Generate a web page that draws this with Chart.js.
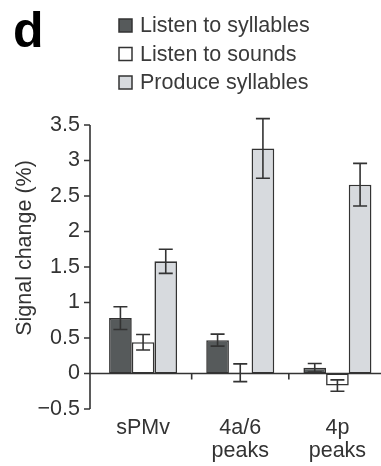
<!DOCTYPE html>
<html>
<head>
<meta charset="utf-8">
<script src="https://cdn.jsdelivr.net/npm/chart.js@4"></script>
<style>
  html, body { margin: 0; padding: 0; background: #fff; overflow: hidden; }
  #wrap { position: relative; width: 388px; height: 466px; }
</style>
</head>
<body>
<div id="wrap"><canvas id="chart" width="388" height="466"></canvas></div>
<script>
const regions = [["sPMv"], ["4a/6", "peaks"], ["4p", "peaks"]];
const seriesNames = ["Listen to syllables", "Listen to sounds", "Produce syllables"];

// mean % signal change per region
const listenSyllables = [0.78, 0.47, 0.08];
const listenSounds = [0.44, 0.01, -0.17];
const produceSyllables = [1.58, 3.17, 2.66];

// standard errors
const listenSyllablesErr = [0.16, 0.085, 0.06];
const listenSoundsErr = [0.11, 0.125, 0.08];
const produceSyllablesErr = [0.17, 0.42, 0.3];

const yTicks = [-0.5, 0, 0.5, 1, 1.5, 2, 2.5, 3, 3.5];

const INK = "#333";
const FONT = "'Liberation Sans', Arial, sans-serif";
const FS = 21.5;
const AXIS_GAP = 4.5; // y axis sits a little left of the first group

const fills = ["#565a5b", "#ffffff", "#d7dade"];
const errs = [listenSyllablesErr, listenSoundsErr, produceSyllablesErr];

const axes = {
  id: "axes",
  afterDatasetsDraw(chart) {
    const { ctx, chartArea: a, scales: { x, y } } = chart;
    const ax = a.left - AXIS_GAP;
    ctx.save();
    ctx.strokeStyle = INK;
    ctx.lineWidth = 1.6;

    // error bars
    chart.data.datasets.forEach((ds, di) => {
      const meta = chart.getDatasetMeta(di);
      meta.data.forEach((bar, i) => {
        const v = ds.data[i], e = errs[di][i];
        const hi = y.getPixelForValue(v + e), lo = y.getPixelForValue(v - e);
        ctx.beginPath();
        ctx.moveTo(bar.x, hi); ctx.lineTo(bar.x, lo);
        ctx.moveTo(bar.x - 7, hi); ctx.lineTo(bar.x + 7, hi);
        ctx.moveTo(bar.x - 7, lo); ctx.lineTo(bar.x + 7, lo);
        ctx.stroke();
      });
    });

    // y axis line and ticks
    ctx.beginPath();
    ctx.moveTo(ax, y.getPixelForValue(yTicks[yTicks.length - 1]));
    ctx.lineTo(ax, y.getPixelForValue(yTicks[0]));
    yTicks.forEach(t => {
      const py = y.getPixelForValue(t);
      ctx.moveTo(ax - 6, py); ctx.lineTo(ax, py);
    });
    ctx.stroke();

    // zero line and short ticks between regions
    const y0 = y.getPixelForValue(0);
    ctx.beginPath();
    ctx.moveTo(ax, y0); ctx.lineTo(chart.width, y0);
    for (let i = 0; i < regions.length - 1; i++) {
      const px = (x.getPixelForValue(i) + x.getPixelForValue(i + 1)) / 2;
      ctx.moveTo(px, y0); ctx.lineTo(px, y0 + 6);
    }
    ctx.stroke();

    // axis title
    ctx.fillStyle = INK;
    ctx.font = FS + "px " + FONT;
    ctx.textAlign = "center";
    ctx.textBaseline = "middle";
    ctx.translate(25, 248);
    ctx.rotate(-Math.PI / 2);
    ctx.fillText("Signal change (%)", 0, 0);
    ctx.restore();

    // panel letter and legend
    ctx.save();
    ctx.fillStyle = "#000";
    ctx.font = "bold 50px " + FONT;
    ctx.textBaseline = "alphabetic";
    ctx.fillText("d", 13, 47);

    ctx.font = FS + "px " + FONT;
    ctx.textBaseline = "middle";
    ctx.strokeStyle = INK;
    ctx.lineWidth = 1.5;
    seriesNames.forEach((name, i) => {
      const cy = 25.5 + i * 28.5;
      ctx.fillStyle = fills[i];
      ctx.fillRect(119, cy - 6.5, 13, 13);
      ctx.strokeRect(119, cy - 6.5, 13, 13);
      ctx.fillStyle = "#3a3a3a";
      ctx.fillText(name, 140, cy + 1);
    });
    ctx.restore();
  }
};

new Chart(document.getElementById("chart"), {
  type: "bar",
  data: {
    labels: regions,
    datasets: [listenSyllables, listenSounds, produceSyllables].map((d, i) => ({
      label: seriesNames[i],
      data: d,
      backgroundColor: fills[i],
      borderColor: INK,
      borderWidth: 1.6,
      borderSkipped: false,
      categoryPercentage: 0.7,
      barPercentage: 1.0
    }))
  },
  options: {
    responsive: false,
    animation: false,
    layout: { padding: { top: 125, right: 2, left: 0, bottom: 0 } },
    plugins: { legend: { display: false }, tooltip: { enabled: false } },
    scales: {
      x: {
        offset: true,
        grid: { display: false, drawTicks: false, tickLength: 0 },
        border: { display: false },
        ticks: {
          color: INK,
          padding: 7,
          maxRotation: 0,
          autoSkip: false,
          font: { family: FONT, size: FS, lineHeight: 1.1 }
        },
        afterFit: s => { s.height = 57; }
      },
      y: {
        min: -0.5,
        max: 3.5,
        grid: { display: false, drawTicks: false, tickLength: 0 },
        border: { display: false },
        afterBuildTicks: s => { s.ticks = yTicks.map(v => ({ value: v })); },
        ticks: {
          color: INK,
          padding: 14.5,
          font: { family: FONT, size: FS },
          callback: v => String(v).replace("-", "\u2212")
        },
        afterFit: s => { s.width = 94.5; }
      }
    }
  },
  plugins: [axes]
});
</script>
</body>
</html>
